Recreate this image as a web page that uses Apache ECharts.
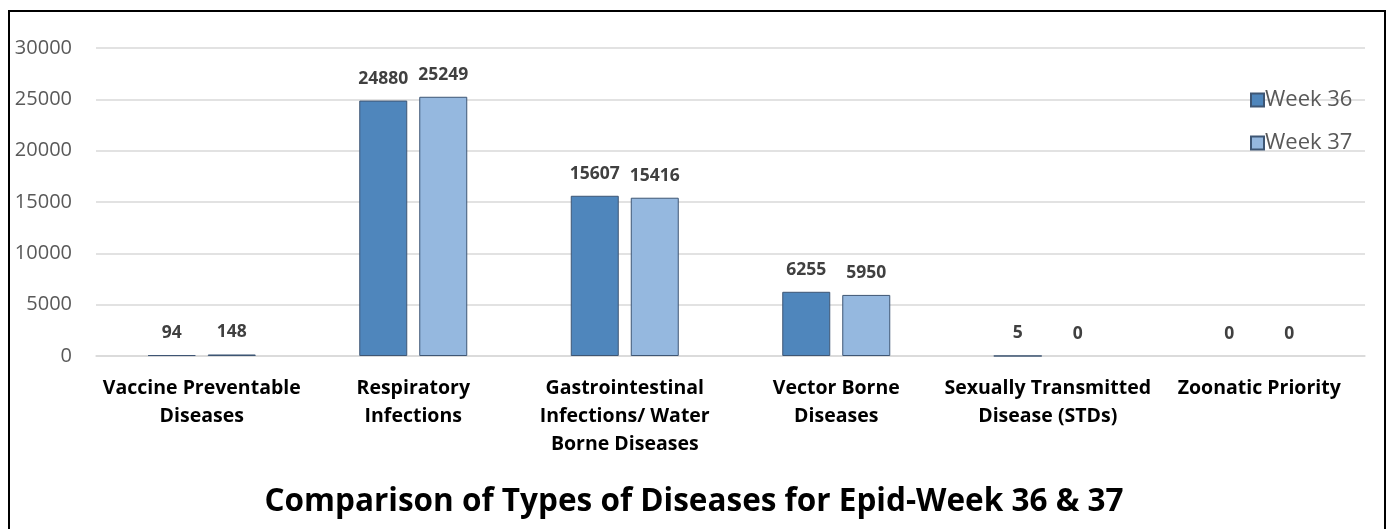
<!DOCTYPE html>
<html>
<head>
<meta charset="utf-8">
<script src="https://cdn.jsdelivr.net/npm/echarts@6/dist/echarts.min.js"></script>
<style>
html,body{margin:0;padding:0;background:#fff;}
#c{width:1388px;height:529px;}
</style>
</head>
<body>
<div id="c"></div>
<script>
const categories = ['Vaccine Preventable\nDiseases', 'Respiratory\nInfections', 'Gastrointestinal\nInfections/ Water\nBorne Diseases', 'Vector Borne\nDiseases', 'Sexually Transmitted\nDisease (STDs)', 'Zoonatic Priority'];
const week36 = [94, 24880, 15607, 6255, 5, 0];
const week37 = [148, 25249, 15416, 5950, 0, 0];
const seriesNames = ['Week 36', 'Week 37'];
const titleText = 'Comparison of Types of Diseases for Epid-Week 36 & 37';

const chart = echarts.init(document.getElementById('c'));
const font = 'Open Sans';
const labelCfg = {show: true, position: 'top', distance: 13, color: '#404040', fontFamily: font, fontWeight: 'bold', fontSize: 17.5};
const toItems = arr => arr.map(v => ({value: v, itemStyle: {borderWidth: v === 0 ? 0 : 1}}));
chart.setOption({
  animation: false,
  title: {text: titleText, left: 'center', top: 481, textStyle: {fontFamily: font, fontWeight: 'bold', fontSize: 31.5, color: '#000'}},
  legend: {orient: 'vertical', left: 1245, top: 84, itemWidth: 13, itemHeight: 13, itemGap: 21, icon: 'rect',
    textStyle: {fontFamily: font, fontSize: 22, color: '#595959', padding: [0,0,0,-4]},
    data: seriesNames},
  grid: {left: 96, right: 23, top: 48, bottom: 173, containLabel: false},
  xAxis: {type: 'category', data: categories,
    axisLine: {show: true, lineStyle: {color: '#d9d9d9', width: 1.5}}, axisTick: {show: false},
    axisLabel: {interval: 0, margin: 18, color: '#000', fontFamily: font, fontWeight: 'bold', fontSize: 19.5, lineHeight: 28}},
  yAxis: {type: 'value', min: 0, max: 30000, interval: 5000,
    axisLine: {show: false}, axisTick: {show: false},
    splitLine: {lineStyle: {color: '#d9d9d9', width: 1.5}},
    axisLabel: {margin: 24, color: '#595959', fontFamily: font, fontSize: 20, formatter: v => String(v)}},
  series: [
    {name: seriesNames[0], type: 'bar', data: toItems(week36), barWidth: 48, barGap: '25%',
      itemStyle: {color: '#4f86bc', borderColor: '#3e5674', borderWidth: 1}, label: labelCfg},
    {name: seriesNames[1], type: 'bar', data: toItems(week37), barWidth: 48,
      itemStyle: {color: '#95b8df', borderColor: '#3e5674', borderWidth: 1}, label: labelCfg}
  ],
  graphic: [{type: 'rect', shape: {x: 9, y: 11, width: 1376, height: 600}, style: {fill: null, stroke: '#000', lineWidth: 2}, silent: true}]
});
</script>
</body>
</html>
